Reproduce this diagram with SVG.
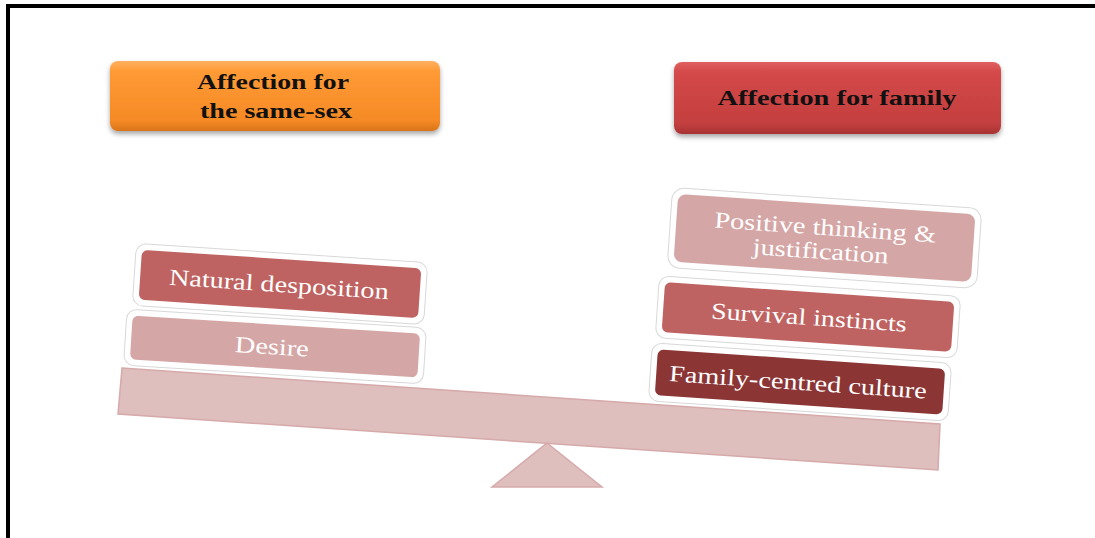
<svg xmlns="http://www.w3.org/2000/svg" width="1095" height="538" viewBox="0 0 1095 538">
<style>
.hdr{font-family:"Liberation Serif","Times New Roman",serif;font-weight:bold;font-size:20px;fill:#111;text-anchor:middle}
.lbl{font-family:"Liberation Serif","Times New Roman",serif;font-size:23px;fill:#fff;text-anchor:middle}
.blk{stroke:#fff;stroke-width:4}
.halo{fill:none;stroke:#d8d8d8;stroke-width:1}
.lt{fill:#D5A6A6}
.md{fill:#BE6361}
.dk{fill:#8B3535}
.beam{fill:#DFBEBE;stroke:#D6AAAA;stroke-width:1.5}
</style>
<defs>
<linearGradient id="gOr" x1="0" y1="0" x2="0" y2="1">
<stop offset="0" stop-color="#FFB060"/>
<stop offset="0.15" stop-color="#FF9A35"/>
<stop offset="0.85" stop-color="#F58A25"/>
<stop offset="1" stop-color="#D8741A"/>
</linearGradient>
<linearGradient id="gRd" x1="0" y1="0" x2="0" y2="1">
<stop offset="0" stop-color="#E06060"/>
<stop offset="0.15" stop-color="#D44848"/>
<stop offset="0.85" stop-color="#C43F3F"/>
<stop offset="1" stop-color="#A83232"/>
</linearGradient>
<filter id="sh" x="-10%" y="-20%" width="120%" height="150%">
<feDropShadow dx="0" dy="3" stdDeviation="2.5" flood-color="#000" flood-opacity="0.35"/>
</filter>
</defs>
<rect width="1095" height="538" fill="#fff"/>
<rect x="6" y="4" width="1089" height="4" fill="#000"/>
<rect x="6" y="4" width="4" height="534" fill="#000"/>

<g id="scale">
<polygon class="beam" points="122,368 940,424 938,470 118,414"/>
<polygon class="beam" points="547,443 602,487 492,487"/>
</g>

<g id="hdr-left">
<rect x="110" y="61" width="330" height="70" rx="8" fill="url(#gOr)" filter="url(#sh)"/>
<text class="hdr" x="273" y="89" textLength="152" lengthAdjust="spacingAndGlyphs">Affection for</text>
<text class="hdr" x="276" y="118" textLength="152" lengthAdjust="spacingAndGlyphs">the same-sex</text>
</g>
<g id="hdr-right">
<rect x="674" y="62" width="327" height="72" rx="8" fill="url(#gRd)" filter="url(#sh)"/>
<text class="hdr" x="837" y="105" textLength="239" lengthAdjust="spacingAndGlyphs">Affection for family</text>
</g>

<g id="desire" transform="translate(275,346.5) rotate(3.6)">
<rect class="halo" x="-150" y="-28" width="300" height="56" rx="10"/>
<rect class="blk lt" x="-146" y="-24" width="292" height="48" rx="8"/>
<text class="lbl" x="-3" y="8" textLength="74" lengthAdjust="spacingAndGlyphs">Desire</text>
</g>
<g id="natural" transform="translate(280,284) rotate(3.8)">
<rect class="halo" x="-146" y="-31" width="292" height="62" rx="10"/>
<rect class="blk md" x="-142" y="-27" width="284" height="54" rx="8"/>
<text class="lbl" x="-1" y="8" textLength="220" lengthAdjust="spacingAndGlyphs">Natural desposition</text>
</g>

<g id="family" transform="translate(800,382) rotate(3.9)">
<rect class="halo" x="-150" y="-29" width="300" height="58" rx="10"/>
<rect class="blk dk" x="-146" y="-25" width="292" height="50" rx="8"/>
<text class="lbl" x="-2" y="8" textLength="258" lengthAdjust="spacingAndGlyphs">Family-centred culture</text>
</g>
<g id="survival" transform="translate(808,317) rotate(3.9)">
<rect class="halo" x="-151" y="-31" width="302" height="62" rx="10"/>
<rect class="blk md" x="-147" y="-27" width="294" height="54" rx="8"/>
<text class="lbl" x="1" y="8" textLength="196" lengthAdjust="spacingAndGlyphs">Survival instincts</text>
</g>
<g id="positive" transform="translate(824.5,238) rotate(3.9)">
<rect class="halo" x="-155" y="-40" width="310" height="80" rx="12"/>
<rect class="blk lt" x="-151" y="-36" width="302" height="72" rx="10"/>
<text class="lbl" x="0" y="-3" textLength="222" lengthAdjust="spacingAndGlyphs">Positive thinking &amp;</text>
<text class="lbl" x="-3" y="21" textLength="136" lengthAdjust="spacingAndGlyphs">justification</text>
</g>
</svg>
